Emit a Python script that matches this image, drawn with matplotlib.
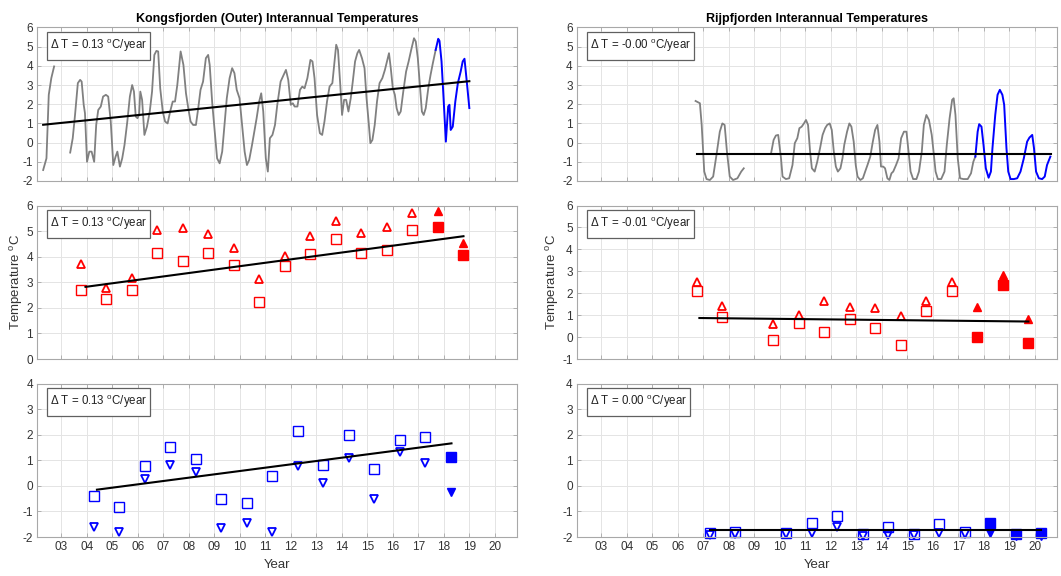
import numpy as np
import matplotlib
matplotlib.use('Agg')
import matplotlib.pyplot as plt
from matplotlib.patches import Rectangle

plt.rcParams['font.family'] = ['Liberation Sans', 'DejaVu Sans']
plt.rcParams['mathtext.fontset'] = 'custom'
plt.rcParams['mathtext.rm'] = 'Liberation Sans'
plt.rcParams['mathtext.it'] = 'Liberation Sans:italic'
plt.rcParams['mathtext.bf'] = 'Liberation Sans:bold'
plt.rcParams['axes.unicode_minus'] = False

# ---- Kongsfjorden (outer) monthly series ----
kong_a_t = [2002.29, 2002.42, 2002.51, 2002.61, 2002.72]
kong_a_T = [-1.43, -0.82, 2.49, 3.36, 3.97]

kong_b_t = [2003.35, 2003.45, 2003.54, 2003.65, 2003.74, 2003.80, 2003.88, 2003.93, 2004.01, 2004.10,
            2004.19, 2004.29, 2004.37, 2004.45, 2004.55, 2004.64, 2004.75, 2004.84, 2004.94, 2005.04,
            2005.13, 2005.20, 2005.30, 2005.39, 2005.48, 2005.59, 2005.69, 2005.78, 2005.85, 2005.92,
            2005.99, 2006.05, 2006.10, 2006.17, 2006.26, 2006.36, 2006.47, 2006.56, 2006.65, 2006.73,
            2006.80, 2006.88, 2006.98, 2007.07, 2007.17, 2007.27, 2007.37, 2007.46, 2007.55, 2007.68,
            2007.79, 2007.89, 2007.98, 2008.07, 2008.17, 2008.28, 2008.37, 2008.46, 2008.56, 2008.67,
            2008.76, 2008.82, 2008.92, 2009.02, 2009.11, 2009.21, 2009.31, 2009.40, 2009.49, 2009.60,
            2009.70, 2009.79, 2009.88, 2009.99, 2010.09, 2010.19, 2010.28, 2010.37, 2010.48, 2010.57,
            2010.66, 2010.76, 2010.84, 2010.92, 2011.02, 2011.10, 2011.18, 2011.28, 2011.38, 2011.47,
            2011.60, 2011.72, 2011.81, 2011.90, 2012.00, 2012.08, 2012.15, 2012.26, 2012.36, 2012.45,
            2012.54, 2012.65, 2012.77, 2012.85, 2012.93, 2013.03, 2013.14, 2013.23, 2013.32, 2013.42,
            2013.52, 2013.63, 2013.70, 2013.78, 2013.85, 2013.94, 2014.01, 2014.09, 2014.17, 2014.26,
            2014.35, 2014.43, 2014.52, 2014.61, 2014.68, 2014.79, 2014.89, 2014.97, 2015.05, 2015.12,
            2015.20, 2015.29, 2015.38, 2015.48, 2015.59, 2015.69, 2015.77, 2015.85, 2015.92, 2016.00,
            2016.08, 2016.15, 2016.23, 2016.31, 2016.41, 2016.52, 2016.62, 2016.72, 2016.83, 2016.90,
            2016.98, 2017.06, 2017.14, 2017.21, 2017.29, 2017.39, 2017.48, 2017.57, 2017.68]
kong_b_T = [-0.52, 0.23, 1.44, 3.10, 3.27, 3.18, 1.97, 1.53, -1.00, -0.47,
            -0.47, -1.00, 0.92, 1.70, 1.88, 2.40, 2.49, 2.40, 1.10, -1.17,
            -0.73, -0.47, -1.25, -0.82, -0.12, 1.10, 2.40, 3.00, 2.66, 1.36,
            1.27, 1.45, 2.66, 2.23, 0.40, 0.83, 1.62, 2.66, 4.57, 4.78,
            4.75, 2.83, 1.62, 1.10, 1.00, 1.62, 2.14, 2.14, 3.00, 4.75,
            4.05, 2.57, 1.79, 1.10, 0.92, 0.92, 1.79, 2.75, 3.18, 4.40,
            4.57, 4.05, 2.05, 0.57, -0.82, -1.08, -0.47, 0.92, 2.31, 3.36,
            3.88, 3.62, 2.75, 2.31, 0.92, -0.47, -1.17, -0.90, -0.12, 0.57,
            1.27, 2.14, 2.57, 1.62, -0.82, -1.51, 0.23, 0.40, 0.92, 1.97,
            3.18, 3.53, 3.79, 3.27, 1.97, 2.05, 1.88, 1.88, 2.75, 2.92,
            2.83, 3.36, 4.31, 4.23, 3.36, 1.44, 0.49, 0.40, 1.10, 2.14,
            2.92, 3.10, 4.05, 5.10, 4.83, 3.00, 1.44, 2.23, 2.23, 1.62,
            2.31, 3.18, 4.23, 4.66, 4.83, 4.40, 3.88, 2.31, 1.10, -0.03,
            0.14, 0.92, 2.14, 3.10, 3.36, 3.79, 4.23, 4.66, 3.88, 2.83,
            2.49, 1.79, 1.44, 1.62, 2.66, 3.70, 4.23, 4.83, 5.44, 5.27,
            4.40, 3.00, 1.62, 1.44, 1.79, 2.83, 3.53, 4.14, 4.83]

kong_new_t = [2017.68, 2017.78, 2017.83, 2017.91, 2017.99, 2018.08, 2018.17, 2018.22, 2018.27, 2018.35,
              2018.45, 2018.55, 2018.66, 2018.74, 2018.81, 2018.90, 2019.00]
kong_new_T = [4.83, 5.41, 5.30, 4.23, 2.31, 0.05, 1.88, 1.97, 0.66, 0.83,
              2.14, 3.10, 3.70, 4.23, 4.37, 3.18, 1.80]

# ---- Rijpfjorden monthly series ----
rijp_a_t = [2006.70, 2006.87, 2006.94, 2007.04, 2007.13, 2007.26, 2007.39, 2007.52, 2007.65, 2007.75,
            2007.84, 2007.93, 2008.04, 2008.17, 2008.34, 2008.49, 2008.59]
rijp_a_T = [2.17, 2.05, 0.92, -1.51, -1.90, -1.95, -1.77, -0.64, 0.57, 1.00,
            0.92, -0.47, -1.77, -1.95, -1.86, -1.51, -1.34]

rijp_b_t = [2009.66, 2009.76, 2009.85, 2009.94, 2010.05, 2010.11, 2010.24, 2010.37, 2010.50, 2010.59,
            2010.69, 2010.77, 2010.86, 2010.95, 2011.03, 2011.11, 2011.19, 2011.26, 2011.37, 2011.47,
            2011.58, 2011.68, 2011.78, 2011.86, 2011.96, 2012.04, 2012.12, 2012.20, 2012.28, 2012.38,
            2012.46, 2012.53, 2012.64, 2012.73, 2012.81, 2012.90, 2012.98, 2013.05, 2013.16, 2013.26,
            2013.35, 2013.44, 2013.55, 2013.65, 2013.74, 2013.83, 2013.91, 2013.97, 2014.06, 2014.13,
            2014.22, 2014.30, 2014.38, 2014.45, 2014.56, 2014.66, 2014.76, 2014.87, 2014.97, 2015.05,
            2015.13, 2015.23, 2015.36, 2015.46, 2015.57, 2015.65, 2015.75, 2015.85, 2015.96, 2016.03,
            2016.11, 2016.20, 2016.33, 2016.46, 2016.55, 2016.66, 2016.76, 2016.82, 2016.89, 2016.98,
            2017.07, 2017.20, 2017.37, 2017.50, 2017.59, 2017.67]
rijp_b_T = [-0.56, 0.14, 0.37, 0.40, -0.82, -1.77, -1.90, -1.86, -1.17, -0.03,
            0.23, 0.75, 0.83, 1.00, 1.18, 0.92, -0.47, -1.34, -1.51, -1.00,
            -0.30, 0.40, 0.75, 0.92, 1.00, 0.66, -0.47, -1.25, -1.51, -1.34,
            -0.82, -0.12, 0.57, 1.00, 0.83, 0.05, -1.17, -1.77, -1.95, -1.86,
            -1.51, -1.17, -0.73, 0.05, 0.66, 0.92, 0.05, -1.25, -1.25, -1.34,
            -1.86, -1.95, -1.60, -1.51, -1.17, -0.82, 0.23, 0.57, 0.57, -0.47,
            -1.51, -1.90, -1.90, -1.51, -0.47, 0.92, 1.44, 1.18, 0.40, -0.47,
            -1.51, -1.90, -1.90, -1.51, -0.12, 1.27, 2.23, 2.31, 1.44, -0.82,
            -1.86, -1.90, -1.90, -1.60, -1.00, -0.73]

rijp_new_t = [2017.67, 2017.76, 2017.82, 2017.91, 2017.99, 2018.08, 2018.19, 2018.28, 2018.34, 2018.45,
              2018.54, 2018.63, 2018.73, 2018.80, 2018.89, 2018.96, 2019.05, 2019.18, 2019.31, 2019.44,
              2019.57, 2019.70, 2019.79, 2019.90, 2019.97, 2020.05, 2020.16, 2020.29, 2020.39, 2020.48,
              2020.61]
rijp_new_T = [-0.73, 0.57, 0.96, 0.83, -0.12, -1.34, -1.83, -1.51, -0.30, 1.44,
              2.49, 2.75, 2.49, 1.97, -0.30, -1.51, -1.90, -1.90, -1.86, -1.51,
              -0.82, 0.05, 0.26, 0.40, -0.30, -1.51, -1.86, -1.90, -1.77, -1.17,
              -0.73]

# ---- summer (red) and winter (blue) yearly values ----
kong_sum_t = [2003.77, 2004.77, 2005.77, 2006.77, 2007.77, 2008.77, 2009.77, 2010.77,
              2011.77, 2012.77, 2013.77, 2014.77, 2015.77, 2016.77, 2017.77, 2018.77]
kong_sum_max = [3.73, 2.78, 3.18, 5.03, 5.13, 4.90, 4.34, 3.14, 4.01, 4.79, 5.38, 4.92, 5.16, 5.70, 5.78, 4.53]
kong_sum_mean = [2.71, 2.36, 2.71, 4.16, 3.83, 4.16, 3.66, 2.23, 3.62, 4.09, 4.70, 4.16, 4.25, 5.05, 5.16, 4.05]

kong_win_t = [2004.27, 2005.27, 2006.27, 2007.27, 2008.27, 2009.27, 2010.27, 2011.27,
              2012.27, 2013.27, 2014.27, 2015.27, 2016.27, 2017.27, 2018.27]
kong_win_mean = [-0.39, -0.82, 0.78, 1.51, 1.05, -0.50, -0.67, 0.38, 2.13, 0.82, 1.97, 0.66, 1.80, 1.90, 1.12]
kong_win_min = [-1.61, -1.81, 0.25, 0.82, 0.55, -1.64, -1.45, -1.81, 0.78, 0.12, 1.08, -0.50, 1.34, 0.91, -0.23]

rijp_sum_t = [2006.75, 2007.75, 2009.75, 2010.75, 2011.75, 2012.75, 2013.75,
              2014.75, 2015.75, 2016.75, 2017.75, 2018.75, 2019.75]
rijp_sum_max = [2.50, 1.43, 0.60, 1.02, 1.63, 1.36, 1.33, 0.98, 1.63, 2.50, 1.39, 2.85, 0.82]
rijp_sum_mean = [2.12, 0.90, -0.12, 0.63, 0.22, 0.82, 0.41, -0.35, 1.17, 2.09, -0.01, 2.39, -0.27]

rijp_win_t = [2007.25, 2008.25, 2010.25, 2011.25, 2012.25, 2013.25, 2014.25,
              2015.25, 2016.25, 2017.25, 2018.25, 2019.25, 2020.25]
rijp_win_mean = [-1.85, -1.81, -1.83, -1.45, -1.18, -1.90, -1.61, -1.87, -1.50, -1.81, -1.45, -1.90, -1.85]
rijp_win_min = [-1.94, -1.87, -1.90, -1.85, -1.61, -1.96, -1.94, -1.94, -1.85, -1.87, -1.83, -1.95, -1.95]

n_old_kong_sum = 14   # last ones are the new (filled) years
n_old_kong_win = 14
n_old_rijp_sum = 10
n_old_rijp_win = 10

# trend lines (end points)
trend_kong = ([2002.29, 2019.00], [0.93, 3.20])
trend_rijp = ([2006.74, 2020.62], [-0.59, -0.59])
trend_kong_sum = ([2003.95, 2018.77], [2.82, 4.80])
trend_rijp_sum = ([2006.85, 2019.75], [0.87, 0.71])
trend_kong_win = ([2004.40, 2018.30], [-0.15, 1.66])
trend_rijp_win = ([2007.25, 2020.25], [-1.72, -1.72])

rates = {'kong': ['0.13', '0.13', '0.13'], 'rijp': ['-0.00', '-0.01', '0.00']}

year_ticks = list(range(2003, 2021))
year_labels = ['%02d' % (y - 2000) for y in year_ticks]

# ---- figure ----
fig = plt.figure(figsize=(10.61, 5.76), dpi=100)
col_left = [0.0349, 0.5438]
col_w = 0.4524
row_bot = [0.6858, 0.3767, 0.0677]
row_h = 0.2665

axes = [[fig.add_axes([cl, rb, col_w, row_h]) for cl in col_left] for rb in row_bot]

spine_c = '#a8a8a8'
for r, row in enumerate(axes):
    for ax in row:
        ax.set_xlim(2002.05, 2020.87)
        ax.set_xticks(year_ticks)
        if r == 2:
            ax.set_xticklabels(year_labels)
            ax.set_xlabel('Year', fontsize=9.5, color='#333333', labelpad=4)
        else:
            ax.set_xticklabels([])
        ax.grid(True, color='#e4e4e4', lw=0.7)
        ax.set_axisbelow(True)
        ax.tick_params(direction='in', length=3, width=0.6, color=spine_c, labelsize=8.5,
                       labelcolor='#333333', top=True, right=True, pad=3)
        for s in ax.spines.values():
            s.set_color(spine_c)
            s.set_linewidth(0.8)

# top row: monthly series
a = axes[0][0]
a.plot(kong_a_t, kong_a_T, color='#808080', lw=1.3)
a.plot(kong_b_t, kong_b_T, color='#808080', lw=1.3)
a.plot(kong_new_t, kong_new_T, color='#0000ff', lw=1.4)
a.plot(*trend_kong, color='black', lw=1.5)
a.set_ylim(-2, 6)
a.set_yticks(range(-2, 7))
a.set_title('Kongsfjorden (Outer) Interannual Temperatures', fontsize=9, fontweight='bold', pad=4)

a = axes[0][1]
a.plot(rijp_a_t, rijp_a_T, color='#808080', lw=1.3)
a.plot(rijp_b_t, rijp_b_T, color='#808080', lw=1.3)
a.plot(rijp_new_t, rijp_new_T, color='#0000ff', lw=1.4)
a.plot(*trend_rijp, color='black', lw=1.5)
a.set_ylim(-2, 6)
a.set_yticks(range(-2, 7))
a.set_title('Rijpfjorden Interannual Temperatures', fontsize=9, fontweight='bold', pad=4)


def draw_points(ax, t, top, mean, n_old, col, tri):
    ax.plot(t[:n_old], top[:n_old], tri, ls='none', ms=5.5, mfc='none', mec=col, mew=1.3, clip_on=False)
    ax.plot(t[:n_old], mean[:n_old], 's', ls='none', ms=7.5, mfc='none', mec=col, mew=1.0, clip_on=False)
    ax.plot(t[n_old:], top[n_old:], tri, ls='none', ms=5.5, mfc=col, mec=col, clip_on=False)
    ax.plot(t[n_old:], mean[n_old:], 's', ls='none', ms=7, mfc=col, mec=col, clip_on=False)


# middle row: summer
a = axes[1][0]
draw_points(a, kong_sum_t, kong_sum_max, kong_sum_mean, n_old_kong_sum, '#ff0000', '^')
a.plot(*trend_kong_sum, color='black', lw=1.5)
a.set_ylim(0, 6)
a.set_yticks(range(0, 7))
a.set_ylabel(r'Temperature $^{\rm o}$C', fontsize=9.5, color='#333333', labelpad=1)

a = axes[1][1]
draw_points(a, rijp_sum_t, rijp_sum_max, rijp_sum_mean, n_old_rijp_sum, '#ff0000', '^')
a.plot(*trend_rijp_sum, color='black', lw=1.5)
a.set_ylim(-1, 6)
a.set_yticks(range(-1, 7))
a.set_ylabel(r'Temperature $^{\rm o}$C', fontsize=9.5, color='#333333', labelpad=1)

# bottom row: winter
a = axes[2][0]
draw_points(a, kong_win_t, kong_win_min, kong_win_mean, n_old_kong_win, '#0000ff', 'v')
a.plot(*trend_kong_win, color='black', lw=1.5)
a.set_ylim(-2, 4)
a.set_yticks(range(-2, 5))

a = axes[2][1]
draw_points(a, rijp_win_t, rijp_win_min, rijp_win_mean, n_old_rijp_win, '#0000ff', 'v')
a.plot(*trend_rijp_win, color='black', lw=1.5)
a.set_ylim(-2, 4)
a.set_yticks(range(-2, 5))

# trend boxes
labels = []
for r in range(3):
    for c, key in enumerate(['kong', 'rijp']):
        ax = axes[r][c]
        txt = r'$\Delta$ T = %s $^{\rm o}$C/year' % rates[key][r]
        t = ax.text(0.027, 0.88, txt, transform=ax.transAxes, fontsize=8.3, ha='left', va='center',
                    color='#222222', zorder=6)
        labels.append((ax, t))

fig.canvas.draw()
rend = fig.canvas.get_renderer()
for ax, t in labels:
    bb = t.get_window_extent(renderer=rend)
    inv = ax.transAxes.inverted()
    cy = (bb.y0 + bb.y1) / 2
    (x0, y0), (x1, y1) = inv.transform([[bb.x0 - 3, cy - 14], [bb.x1 + 3, cy + 14]])
    ax.add_patch(Rectangle((x0, y0), x1 - x0, y1 - y0, transform=ax.transAxes,
                           fc='white', ec='#606060', lw=0.9, zorder=5))

fig.savefig('out.png', dpi=100)
